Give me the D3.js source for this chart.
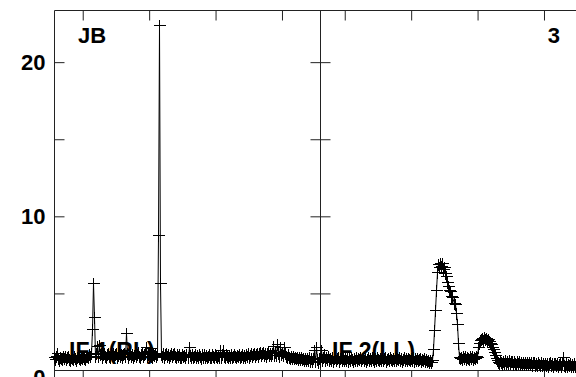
<!DOCTYPE html>
<html><head><meta charset="utf-8">
<script src="https://cdn.jsdelivr.net/npm/d3@7"></script>
<style>html,body{margin:0;padding:0;background:#fff;overflow:hidden} svg{display:block;}</style>
</head><body>
<svg id="c" width="576" height="377"></svg>
<script>
// Amplitude samples (uniform time sampling across each panel)
const ampLeft = [
.86,.74,.92,1.15,.78,.70,.90,.83,.76,.94,
.80,.91,.72,.85,.95,.77,.71,.89,.82,.74,
.93,.79,.70,.87,.96,.78,.73,.90,.81,.92,
.84,.75,.91,.97,.90,1.10,.95,1.12,2.70,5.70,
3.50,.96,1.14,1.62,.92,1.66,1.10,1.15,.90,1.04,
1.13,.93,.89,1.08,1.16,.97,.90,1.12,1.00,1.15,
.92,1.06,1.16,.88,1.02,1.13,.94,1.09,.89,1.05,
1.15,.95,2.40,1.11,.90,1.04,1.16,.93,1.08,.88,
1.03,1.14,.92,1.06,1.17,.96,.89,1.08,1.15,.94,
1.05,1.12,1.55,.91,1.07,1.15,1.45,.97,.90,1.10,
1.02,1.14,.93,1.06,8.80,22.40,5.70,1.08,.94,1.15,
.90,1.05,1.14,.93,1.09,.89,1.03,1.12,.92,1.06,
1.15,.95,.88,1.09,.93,1.04,.90,.87,1.06,.91,
1.02,.86,1.08,.90,1.50,.98,.87,1.07,.85,.96,
1.08,.89,1.01,.86,1.07,.93,.84,1.04,.90,1.10,
.87,1.03,.85,.97,1.09,.90,.86,1.05,.93,.88,
1.07,.95,.85,1.02,.90,1.35,.86,1.04,1.30,.92,
.87,1.08,.95,.85,1.02,.90,1.09,.86,.97,1.05,
.91,.85,1.03,.94,1.08,.88,.96,1.10,.90,1.02,
.86,1.06,.93,1.11,.90,1.01,1.12,.94,1.07,1.13,
.95,1.09,1.15,.96,1.11,1.17,.98,1.12,1.18,1.00,
1.15,.97,1.12,1.19,1.01,1.16,.98,1.13,1.60,1.02,
1.18,.99,1.70,1.14,.97,1.55,1.10,1.17,.98,1.50,
1.12,.96,.90,1.06,.88,.84,.95,.82,.91,.80,
.90,.78,.88,.76,.87,.74,.85,.72,.84,.70,
.82,.68,.80,.66,.86,.64,.78,.62,.82,1.35,
.60,1.50,.74,.56,.80,.64
];
const ampRight = [
.84,1.30,.70,.90,1.10,.66,.87,.74,.92,.68,
.82,.70,.88,.64,.80,.86,.67,.79,.85,.63,
.78,.87,.68,.82,.65,.84,.71,.88,.64,.80,
.69,.86,.75,.63,.83,.70,.87,.66,.81,.72,
.85,.65,.78,.88,.68,.83,.64,.76,.86,.70,
.80,.66,.85,.73,.63,.84,.69,.87,.77,.65,
.82,.70,.86,.67,.79,.85,.64,.76,.81,.69,
.86,.74,.65,.83,.71,.88,.67,.80,.73,.85,
.68,.82,.64,.77,.87,.70,.81,.66,.84,.72,
.67,.83,.71,.86,.63,.78,.69,.82,.65,.74,
.83,.64,.75,.68,.81,.62,.73,.60,.70,.58,
.68,.56,.66,1.4,2.6,3.9,5.2,6.4,6.9,6.7,
7.0,6.75,6.95,6.6,6.7,6.3,6.1,5.75,5.5,5.2,
5.15,4.85,4.75,4.4,4.3,3.7,3.0,1.8,.90,.78,
.88,.72,.92,.80,.95,.74,.90,.84,.76,.93,
.82,.91,.73,.88,.79,.94,.90,1.50,1.80,1.95,
2.05,2.10,1.95,2.15,2.05,2.10,2.00,2.05,1.90,1.80,
1.70,1.50,1.40,1.20,1.00,.80,.65,.55,.48,.66,
.52,.45,.64,.50,.68,.47,.62,.49,.66,.46,
.60,.64,.45,.61,.50,.43,.59,.47,.62,.44,
.58,.41,.57,.45,.55,.40,.54,.42,.57,.39,
.53,.37,.52,.56,.38,.51,.36,.54,.40,.34,
.52,.38,.50,.33,.48,.36,.50,.32,.47,.52,
.34,.48,.31,.46,.51,.33,.47,.30,.45,.50,
.32,.46,.87,.34,.30,.47,.29,.45,.33,.49,
.30,.44,.32,.47,.28,.43,.48,.31,.44,.29,
.46,.32,.30,.46,.31,.43
];
const panelLabels = ["IF 1(RL)", "IF 2(LL)"];
const baselineLabel = "JB";
const sourceLabel = "3";
const yTicks = [5, 10, 15, 20];
const yLabels = [0, 10, 20];
const hourTicks = [12, 13, 14, 15];
const timeRangeL = [11.575, 15.58];
const timeRangeR = [11.635, 15.64];
const yMax = 23.35;

const svg = d3.select("#c");
const FONT = "'Liberation Sans', Arial, Helvetica, sans-serif";
const yTop = 10.5, yBot = 370.5;
const y = d3.scaleLinear().domain([0, yMax]).range([yBot, yTop]);
const panels = [
  {x0: 54.5, x1: 320.5, amp: ampLeft, tr: timeRangeL, label: panelLabels[0], lx: 69},
  {x0: 320.5, x1: 586.5, amp: ampRight, tr: timeRangeR, label: panelLabels[1], lx: 332}
];
const ink = "#222";

function styleAxis(g) {
  g.select(".domain").remove();
  g.selectAll(".tick line").attr("stroke", ink).attr("stroke-width", 1);
  g.selectAll(".tick text").remove();
}

// frame
svg.append("line").attr("x1", 54.5).attr("x2", 586.5).attr("y1", yTop).attr("y2", yTop).attr("stroke", ink);
svg.append("line").attr("x1", 54.5).attr("x2", 586.5).attr("y1", yBot).attr("y2", yBot).attr("stroke", ink);
[54.5, 320.5, 586.5].forEach(xv => {
  svg.append("line").attr("x1", xv).attr("x2", xv).attr("y1", yTop).attr("y2", 377).attr("stroke", ink);
});

panels.forEach((p, k) => {
  const xt = d3.scaleLinear().domain(p.tr).range([p.x0, p.x1]);
  svg.append("g").attr("transform", `translate(0,${yTop})`)
    .call(d3.axisBottom(xt).tickValues(hourTicks).tickSize(10).tickFormat("")).call(styleAxis);
  svg.append("g").attr("transform", `translate(0,${yBot})`)
    .call(d3.axisBottom(xt).tickValues(hourTicks).tickSize(10).tickFormat("")).call(styleAxis);
  svg.append("g").attr("transform", `translate(${p.x0},0)`)
    .call(d3.axisRight(y).tickValues(yTicks).tickSize(10).tickFormat("")).call(styleAxis);
  svg.append("g").attr("transform", `translate(${p.x1},0)`)
    .call(d3.axisLeft(y).tickValues(yTicks).tickSize(10).tickFormat("")).call(styleAxis);

  // panel label (beneath data)
  svg.append("text").attr("x", p.lx).attr("y", 358.5)
    .attr("font-family", FONT).attr("font-weight", "bold").attr("font-size", 23)
    .attr("fill", "#000").text(p.label);
});

// y labels
yLabels.forEach(v => {
  svg.append("text").attr("x", 45.5).attr("y", y(v) + (v === 0 ? 14.5 : 8))
    .attr("text-anchor", "end")
    .attr("font-family", FONT).attr("font-weight", "bold").attr("font-size", 22)
    .attr("fill", "#000").text(v);
});

svg.append("text").attr("x", 78).attr("y", 43)
  .attr("font-family", FONT).attr("font-weight", "bold").attr("font-size", 22).text(baselineLabel);
svg.append("text").attr("x", 560).attr("y", 43).attr("text-anchor", "end")
  .attr("font-family", FONT).attr("font-weight", "bold").attr("font-size", 22).text(sourceLabel);

// data
panels.forEach(p => {
  const xi = d3.scaleLinear().domain([0, p.amp.length - 1]).range([p.x0 - 0.5, p.x1 - 0.5]);
  const px = i => Math.round(xi(i)) + 0.5;
  const py = d => Math.round(y(d)) + 0.5;
  const line = d3.line().x((d, i) => px(i)).y(d => py(d));
  svg.append("path").datum(p.amp).attr("d", line)
    .attr("fill", "none").attr("stroke", "#000").attr("stroke-width", 1);
  const s = 6;
  let dd = "";
  p.amp.forEach((d, i) => {
    const cx = px(i), cy = py(d);
    dd += `M${cx - s},${cy}H${cx + s}M${cx},${cy - s}V${cy + s}`;
  });
  svg.append("path").attr("d", dd).attr("fill", "none").attr("stroke", "#000")
    .attr("stroke-width", 1).attr("shape-rendering", "crispEdges");
});
</script>
</body></html>
